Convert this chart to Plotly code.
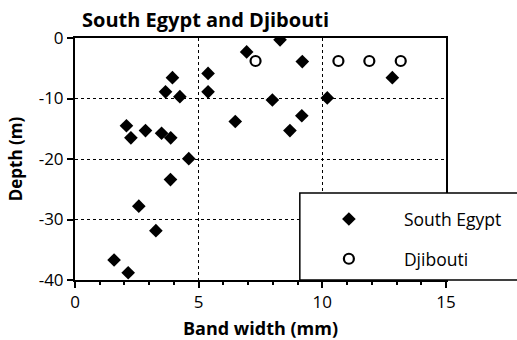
import plotly.graph_objects as go

# Band width (mm) and depth (m) of each sample
egypt_width = [1.58, 2.15, 2.58, 3.27, 3.86, 4.60, 2.08, 2.26, 2.85, 3.50,
               3.87, 3.66, 3.94, 4.24, 5.38, 5.38, 6.48, 6.94, 8.29, 9.19,
               7.98, 9.17, 8.69, 10.20, 12.83]
egypt_depth = [-36.7, -38.8, -27.8, -31.85, -23.4, -19.95, -14.5, -16.5, -15.3, -15.75,
               -16.5, -8.9, -6.55, -9.7, -5.85, -8.9, -13.8, -2.3, -0.3, -3.9,
               -10.25, -12.85, -15.3, -9.9, -6.55]

djibouti_width = [7.30, 10.65, 11.90, 13.17]
djibouti_depth = [-3.8, -3.8, -3.8, -3.8]

x_ticks = [0, 5, 10, 15]
x_tick_text = ["0", "5", "10", "15"]
y_ticks = [0, -10, -20, -30, -40]
y_tick_text = ["0", "-10", "-20", "-30", "-40"]

FONT = "Open Sans"

fig = go.Figure()
fig.add_trace(go.Scatter(
    x=egypt_width, y=egypt_depth, mode="markers", name="South Egypt",
    legendgroup="egypt",
    marker=dict(symbol="diamond", size=10.5, color="black"),
))
fig.add_trace(go.Scatter(
    x=djibouti_width, y=djibouti_depth, mode="markers", name="Djibouti",
    legendgroup="djibouti",
    marker=dict(symbol="circle-open", size=10, color="black", line=dict(width=2.2)),
))

# white box framing the legend, overlapping the lower-right of the plot
fig.add_shape(type="rect", xref="paper", yref="paper",
              x0=0.606, x1=1.3, y0=0.0, y1=0.36,
              fillcolor="white", line=dict(color="black", width=1.5),
              layer="above")

axis_common = dict(
    showline=True, linecolor="black", linewidth=2, mirror=True,
    ticks="outside", tickcolor="black", tickwidth=1.5, ticklen=6,
    showgrid=True, gridcolor="black", gridwidth=1, griddash="dot",
    zeroline=False, automargin=False,
    tickfont=dict(family=FONT, size=17, color="black"),
)

fig.update_xaxes(
    range=[0, 15], tickvals=x_ticks, ticktext=x_tick_text,
    minor=dict(dtick=1, ticks="outside", ticklen=3, tickwidth=1.5,
               tickcolor="black", showgrid=False),
    title=dict(text="<b>Band width (mm)</b>", standoff=12,
               font=dict(family=FONT, size=18, color="black")),
    **axis_common,
)
fig.update_yaxes(
    range=[-40, 0], tickvals=y_ticks, ticktext=y_tick_text,
    title=dict(text="<b>Depth (m)</b>", standoff=12,
               font=dict(family=FONT, size=17, color="black")),
    **axis_common,
)

fig.update_layout(
    width=517, height=340,
    margin=dict(l=75, r=71, t=38, b=60, autoexpand=False),
    paper_bgcolor="white", plot_bgcolor="white",
    title=dict(text="<b>South Egypt and Djibouti</b>", xref="paper", x=0.019,
               xanchor="left", yref="container", y=0.941, yanchor="middle",
               font=dict(family=FONT, size=20, color="black")),
    showlegend=True,
    legend=dict(x=0.590, y=0.326, xanchor="left", yanchor="top",
                bgcolor="rgba(0,0,0,0)", borderwidth=0,
                tracegroupgap=14, itemwidth=100,
                font=dict(family=FONT, size=17.5, color="black")),
)

fig.write_html("out.html")
